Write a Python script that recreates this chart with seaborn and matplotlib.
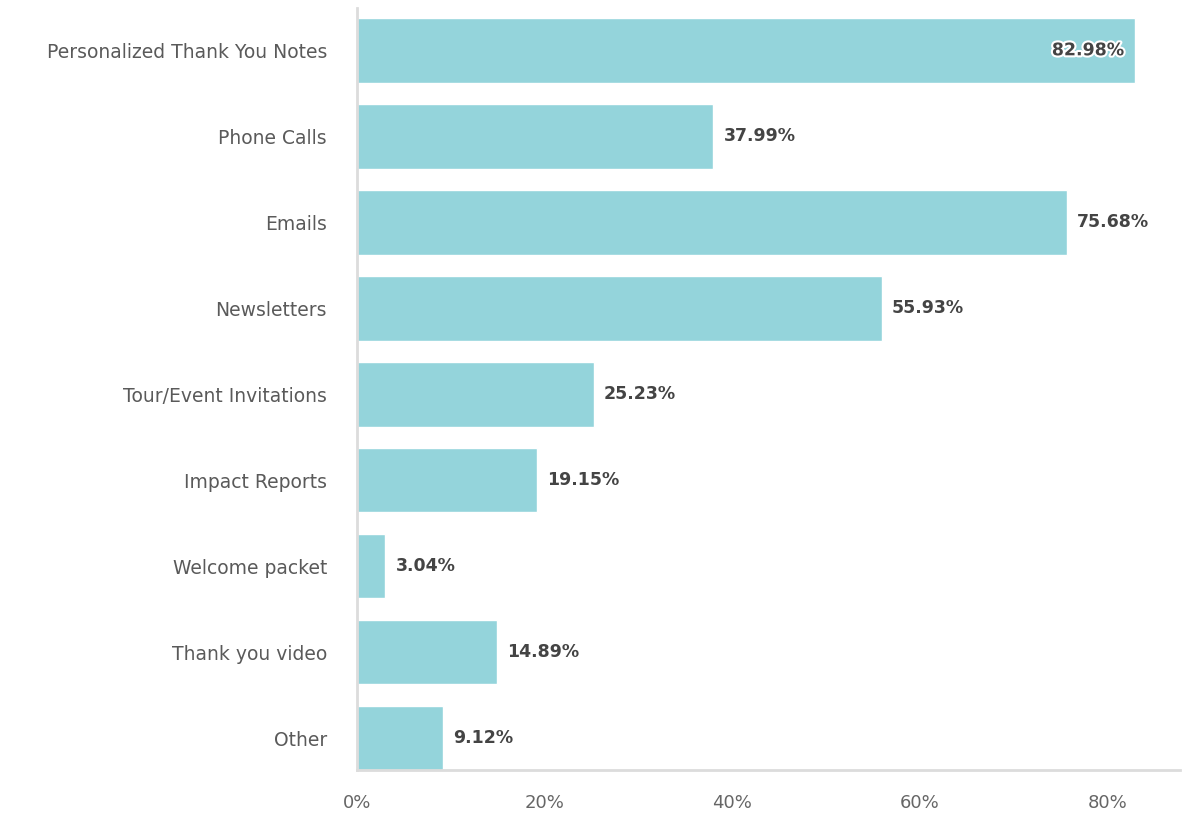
import matplotlib
matplotlib.use("Agg")
import matplotlib.pyplot as plt
import matplotlib.patheffects as pe
import seaborn as sns
import pandas as pd

categories = [
    "Personalized Thank You Notes",
    "Phone Calls",
    "Emails",
    "Newsletters",
    "Tour/Event Invitations",
    "Impact Reports",
    "Welcome packet",
    "Thank you video",
    "Other",
]
values = [82.98, 37.99, 75.68, 55.93, 25.23, 19.15, 3.04, 14.89, 9.12]
x_ticks = [0, 20, 40, 60, 80]
x_tick_labels = ["0%", "20%", "40%", "60%", "80%"]

df = pd.DataFrame({"method": categories, "share": values})

sns.set_theme(style="white")
plt.rcParams["font.family"] = ["DejaVu Sans"]

fig = plt.figure(figsize=(11.82, 8.17), dpi=100)
ax = fig.add_axes([0.302, 0.0575, 0.696, 0.9325])

sns.barplot(data=df, x="share", y="method", orient="h", color="#94D4DB",
            saturation=1, width=0.75, ax=ax)

ax.set_xlim(0, 87.7)
ax.set_ylim(8.37, -0.49)
ax.set_xlabel("")
ax.set_ylabel("")
ax.set_xticks(x_ticks)
ax.set_xticklabels(x_tick_labels)

for s in ["top", "right"]:
    ax.spines[s].set_visible(False)
for s in ["left", "bottom"]:
    ax.spines[s].set_color("#dcdcdc")
    ax.spines[s].set_linewidth(2)

ax.tick_params(axis="x", direction="in", length=9, width=2, color="#dcdcdc",
               labelsize=13, labelcolor="#666666", pad=17)
ax.tick_params(axis="y", length=0, labelsize=13.5, labelcolor="#5a5a5a", pad=21.5)

# value labels: outside the bar, except when the bar nearly fills the axis
for i, v in enumerate(values):
    label = f"{v:.2f}%"
    if v > 80:
        ax.text(v - 1.2, i, label, ha="right", va="center", fontsize=12.5,
                fontweight="bold", color="#444444",
                path_effects=[pe.withStroke(linewidth=3, foreground="white")])
    else:
        ax.text(v + 1.1, i, label, ha="left", va="center", fontsize=12.5,
                fontweight="bold", color="#444444")

fig.savefig("out.png", dpi=100)
